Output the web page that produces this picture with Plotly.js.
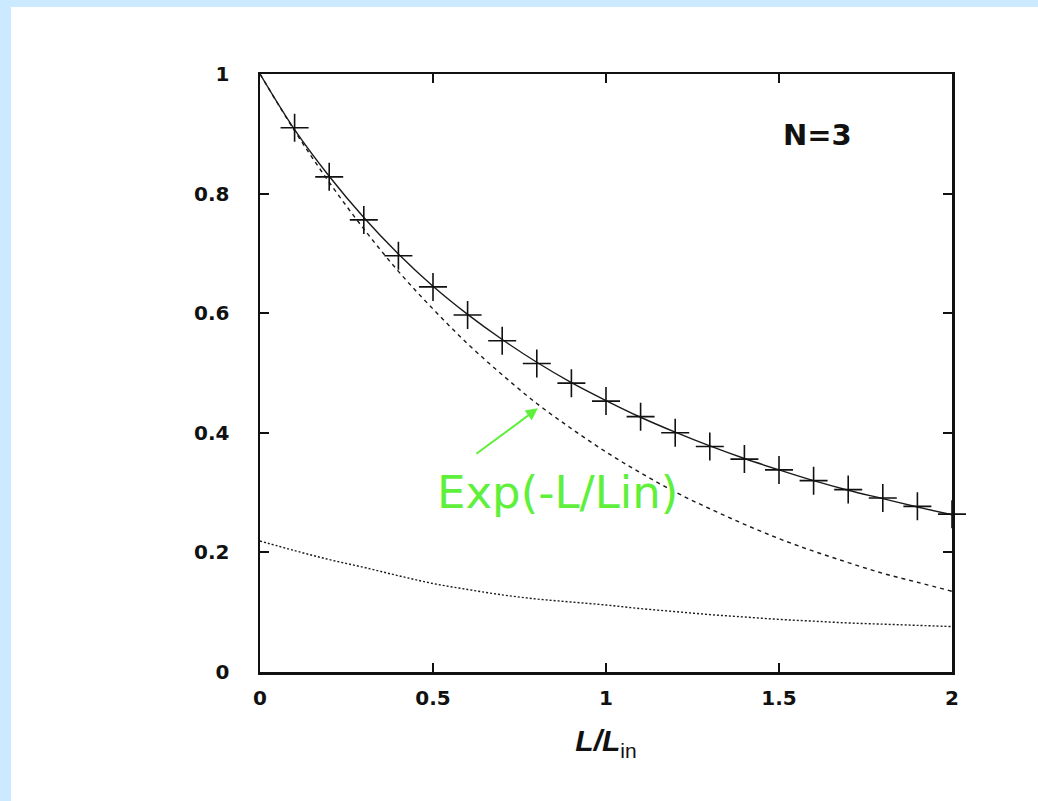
<!DOCTYPE html>
<html>
<head>
<meta charset="utf-8">
<script src="https://cdn.plot.ly/plotly-3.0.1.min.js"></script>
<style>
html,body{margin:0;padding:0;background:#cceaff;width:1038px;height:801px;overflow:hidden;}
#plot{position:absolute;left:11px;top:7px;width:1027px;height:794px;background:#fff;}
</style>
</head>
<body>
<div id="plot"></div>
<script>
// Data
var xCross = [0.1,0.2,0.3,0.4,0.5,0.6,0.7,0.8,0.9,1.0,1.1,1.2,1.3,1.4,1.5,1.6,1.7,1.8,1.9,2.0];
var yCross = [0.910,0.828,0.756,0.696,0.644,0.597,0.554,0.516,0.483,0.453,0.427,0.400,0.377,0.356,0.338,0.320,0.305,0.291,0.277,0.264];

var xFit = [0,0.1,0.2,0.3,0.4,0.5,0.6,0.7,0.8,0.9,1.0,1.1,1.2,1.3,1.4,1.5,1.6,1.7,1.8,1.9,2.0];
var yFit = [1.0,0.907,0.829,0.760,0.699,0.645,0.598,0.556,0.518,0.484,0.454,0.426,0.401,0.378,0.357,0.338,0.320,0.304,0.290,0.276,0.263];

var xExp = [0,0.1,0.2,0.3,0.4,0.5,0.6,0.7,0.8,0.9,1.0,1.1,1.2,1.3,1.4,1.5,1.6,1.7,1.8,1.9,2.0];
var yExp = [1.0,0.905,0.819,0.741,0.670,0.607,0.549,0.497,0.449,0.407,0.368,0.333,0.301,0.273,0.247,0.223,0.202,0.183,0.165,0.150,0.135];

var xLow = [0,0.1,0.2,0.3,0.4,0.5,0.6,0.7,0.8,0.9,1.0,1.1,1.2,1.3,1.4,1.5,1.6,1.7,1.8,1.9,2.0];
var yLow = [0.219,0.203,0.188,0.175,0.161,0.148,0.138,0.129,0.122,0.117,0.112,0.106,0.101,0.096,0.092,0.088,0.085,0.082,0.080,0.078,0.076];

var xTicks = [0,0.5,1,1.5,2];
var xTickText = ['0','0.5','1','1.5','2'];
var yTicks = [0,0.2,0.4,0.6,0.8,1];
var yTickText = ['0','0.2','0.4','0.6','0.8','1'];

var lineCol = '#1a1a1a';
var traces = [
  {x:xFit, y:yFit, mode:'lines', line:{color:lineCol, width:1.4, shape:'spline'}, hoverinfo:'skip'},
  {x:xExp, y:yExp, mode:'lines', line:{color:lineCol, width:1.4, dash:'4px,4px', shape:'spline'}, hoverinfo:'skip'},
  {x:xLow, y:yLow, mode:'lines', line:{color:lineCol, width:1.4, dash:'2px,2px', shape:'spline'}, hoverinfo:'skip'},
  {x:xCross, y:yCross, mode:'markers', marker:{symbol:'cross-thin-open', size:20, color:'#111', line:{color:'#111', width:1.6}}, cliponaxis:false}
];

var tickFont = {family:'DejaVu Sans, sans-serif', size:20, color:'#111', weight:'bold'};
var layout = {
  width:1027, height:794,
  margin:{l:249, r:86, t:67, b:129},
  paper_bgcolor:'#fff', plot_bgcolor:'#fff',
  showlegend:false,
  xaxis:{
    range:[0,2], tickvals:xTicks, ticktext:xTickText,
    ticks:'inside', ticklen:9, tickwidth:2, tickcolor:'#111',
    showline:true, linewidth:2.5, linecolor:'#111', mirror:'ticks',
    showgrid:false, zeroline:false, tickfont:tickFont, ticklabelstandoff:6,
    title:{text:'<i><b>L/L</b></i><sub>in</sub>', font:{family:'Liberation Sans, Arial, sans-serif', size:30, color:'#111'}, standoff:22}
  },
  yaxis:{
    range:[0,1], tickvals:yTicks, ticktext:yTickText,
    ticks:'inside', ticklen:9, tickwidth:2, tickcolor:'#111',
    showline:true, linewidth:2.5, linecolor:'#111', mirror:'ticks',
    showgrid:false, zeroline:false, tickfont:tickFont, ticklabelstandoff:24
  },
  annotations:[
    {x:1.61, y:0.898, xref:'x', yref:'y', text:'<b>N=3</b>', showarrow:false,
     font:{family:'DejaVu Sans, sans-serif', size:29, color:'#111'}},
    {x:0.803, y:0.441, xref:'x', yref:'y', ax:0.621, ay:0.363, axref:'x', ayref:'y',
     text:'', showarrow:true, arrowhead:2, arrowsize:1.2, arrowwidth:2, arrowcolor:'#5ef03a'},
    {x:0.86, y:0.300, xref:'x', yref:'y', text:'Exp(-L/Lin)', showarrow:false,
     font:{family:'Comic Sans MS, DejaVu Sans, sans-serif', size:45, color:'#5ef03a'}}
  ]
};

Plotly.newPlot('plot', traces, layout, {staticPlot:true});
</script>
</body>
</html>
